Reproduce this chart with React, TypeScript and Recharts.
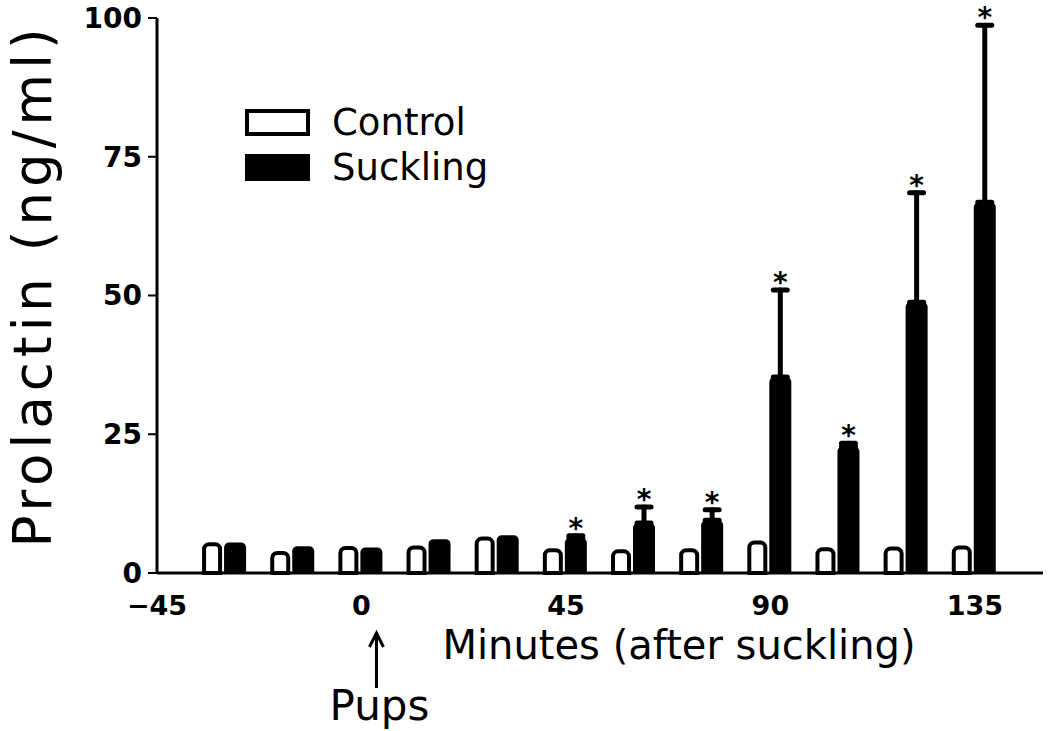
import { ComposedChart, Bar, XAxis, YAxis, ErrorBar, LabelList, Legend } from 'recharts';

const minutes = [-30, -15, 0, 15, 30, 45, 60, 75, 90, 105, 120, 135];
const control = [5.2, 3.6, 4.5, 4.6, 6.2, 4.1, 3.9, 4.1, 5.5, 4.3, 4.4, 4.6];
const suckling = [5.5, 4.8, 4.6, 6.1, 6.8, 6.3, 9, 9.5, 35.3, 22.8, 48.8, 66.8];
const sucklingSem = [null, null, null, null, null, 0.4, 2.9, 1.9, 15.7, 0.6, 19.7, 31.9];
const significant = [false, false, false, false, false, true, true, true, true, true, true, true];
const xTicks = [-45, 0, 45, 90, 135];
const yTicks = [0, 25, 50, 75, 100];

const data = minutes.map((m, i) => ({
  minute: m,
  Control: control[i],
  Suckling: suckling[i],
  sem: sucklingSem[i] == null ? undefined : [0, sucklingSem[i]],
}));

const FONT = '"DejaVu Sans", sans-serif';

const renderXTick = (p: any) => {
  const { x, y, payload } = p;
  const v = payload.value;
  const label = v < 0 ? `\u2212${Math.abs(v)}` : String(v);
  return (
    <g>
      <text x={x} y={y + 42} textAnchor="middle" fontSize={27} fontWeight="bold" fill="#000">
        {label}
      </text>
      {v === 0 && (
        <g>
          <line x1={x + 15} y1={636} x2={x + 15} y2={688} stroke="#000" strokeWidth={3} />
          <polyline points={`${x + 8},${647} ${x + 15},${633} ${x + 22},${647}`} fill="none" stroke="#000" strokeWidth={3} />
          <text x={x + 18} y={720} textAnchor="middle" fontSize={42} fill="#000">
            Pups
          </text>
        </g>
      )}
    </g>
  );
};

const renderXLabel = (p: any) => {
  const vb = p.viewBox;
  return (
    <text x={vb.x + 522} y={vb.y + 86} textAnchor="middle" fontSize={40} fill="#000">
      Minutes (after suckling)
    </text>
  );
};

const renderYLabel = (p: any) => {
  const vb = p.viewBox;
  const cx = 32;
  const cy = vb.y + vb.height / 2 - 10;
  return (
    <text x={cx} y={cy} transform={`rotate(-90 ${cx} ${cy})`} textAnchor="middle" dominantBaseline="central" fontSize={53} letterSpacing={5} fill="#000">
      Prolactin (ng/ml)
    </text>
  );
};

const renderStar = (p: any) => {
  const i = p.index;
  if (!significant[i]) return null;
  const vb = p.viewBox ?? p;
  const top = suckling[i] + (sucklingSem[i] ?? 0);
  const y = vb.y + vb.height - (top / suckling[i]) * vb.height;
  return (
    <text key={`star-${i}`} x={vb.x + vb.width / 2} y={y + 2} textAnchor="middle" fontSize={28} fontWeight="bold" fill="#000">
      *
    </text>
  );
};

const renderLegend = (props: any) => (
  <div style={{ fontFamily: FONT }}>
    {(props.payload || []).map((e: any, i: number) => (
      <div key={e.value} style={{ display: 'flex', alignItems: 'center', height: 45 }}>
        <span
          style={{
            display: 'inline-block',
            width: 57,
            height: 19,
            border: '4px solid #000',
            background: i === 0 ? '#fff' : '#000',
          }}
        />
        <span style={{ marginLeft: 22, fontSize: 37, color: '#000' }}>{e.value}</span>
      </div>
    ))}
  </div>
);

export default function App() {
  return (
    <div style={{ position: 'absolute', left: 0, top: 0, width: 1050, height: 731, background: '#fff', fontFamily: FONT }}>
      <ComposedChart width={1050} height={731} data={data} margin={{ top: 18, right: 7, bottom: 0, left: 0 }} barGap={4}>
        <XAxis
          dataKey="minute"
          type="number"
          domain={[-45, 150]}
          ticks={xTicks}
          tick={renderXTick}
          tickLine={false}
          tickSize={0}
          tickMargin={0}
          height={158}
          axisLine={{ stroke: '#000', strokeWidth: 3 }}
          label={renderXLabel}
        />
        <YAxis
          domain={[0, 100]}
          ticks={yTicks}
          width={157}
          tickSize={9}
          tickMargin={6}
          axisLine={{ stroke: '#000', strokeWidth: 3 }}
          tickLine={{ stroke: '#000', strokeWidth: 2 }}
          tick={{ fontSize: 28, fontWeight: 'bold', fill: '#000' }}
          label={renderYLabel}
        />
        <Legend
          layout="vertical"
          align="center"
          verticalAlign="middle"
          wrapperStyle={{ top: 100, left: 245 }}
          content={renderLegend}
        />
        <Bar dataKey="Control" barSize={16} fill="#fff" stroke="#000" strokeWidth={4} radius={[5, 5, 0, 0]} isAnimationActive={false} />
        <Bar dataKey="Suckling" barSize={22} fill="#000" radius={[5, 5, 0, 0]} isAnimationActive={false}>
          <ErrorBar dataKey="sem" direction="y" width={7} stroke="#000" strokeWidth={5} strokeLinecap="round" />
          <LabelList dataKey="Suckling" content={renderStar} />
        </Bar>
      </ComposedChart>
    </div>
  );
}
